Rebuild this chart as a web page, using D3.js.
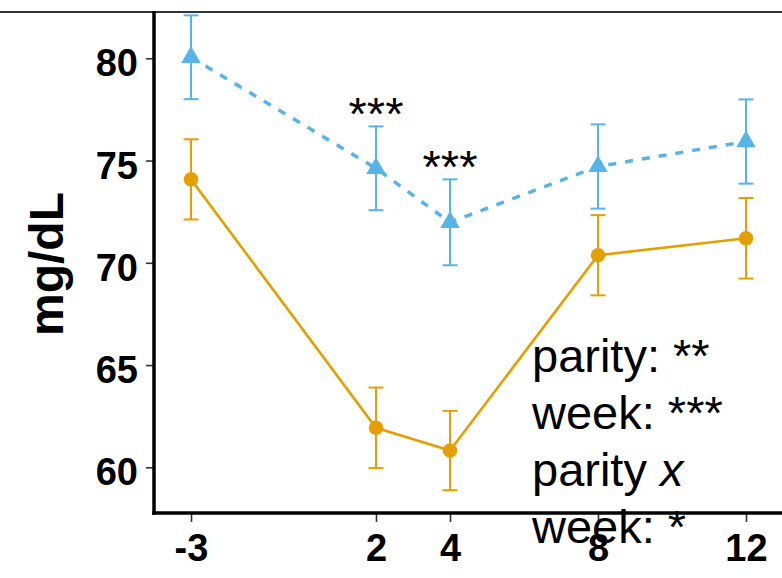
<!DOCTYPE html>
<html>
<head>
<meta charset="utf-8">
<script src="https://cdn.jsdelivr.net/npm/d3@7"></script>
<style>
  html, body { margin: 0; padding: 0; background: #fff; overflow: hidden; }
  svg { display: block; font-family: "Liberation Sans", Arial, Helvetica, sans-serif; }
</style>
</head>
<body>
<svg id="chart" width="782" height="578"></svg>
<script>
// Sampling weeks relative to calving
const weeks = [-3, 2, 4, 8, 12];

// Dashed series (triangles): mean and standard error, mg/dL
const triangleMean = [80.05, 74.62, 71.98, 74.71, 75.93];
const triangleSE   = [2.05, 2.05, 2.10, 2.06, 2.06];

// Solid series (circles): mean and standard error, mg/dL
const circleMean = [74.08, 61.93, 60.82, 70.37, 71.20];
const circleSE   = [1.96, 1.97, 1.94, 1.96, 1.97];

// Significance marks above the dashed series at each week
const weekStars = ["", "***", "***", "", ""];

// Axis ticks
const yTicks = [60, 65, 70, 75, 80];
const xTicks = [-3, 2, 4, 8, 12];

// Model summary text
const statLines = [
  [{ t: "parity: **" }],
  [{ t: "week: ***" }],
  [{ t: "parity " }, { t: "x", italic: true }],
  [{ t: "week: *" }]
];

const BLUE = "#56B4E9";
const ORANGE = "#E69F00";

const svg = d3.select("#chart");

const x = d3.scaleLinear().domain([-3, 12]).range([191, 746]);
const y = d3.scaleLinear().domain([60, 80]).range([467.3, 58.3]);

const axisX = 154;   // left axis position
const axisY = 513;   // bottom axis position

// Top frame line
svg.append("line")
  .attr("x1", 0).attr("x2", 782).attr("y1", 12).attr("y2", 12)
  .attr("stroke", "#333").attr("stroke-width", 2);

// Y axis
const gy = svg.append("g")
  .attr("transform", `translate(${axisX},0)`)
  .call(d3.axisLeft(y).tickValues(yTicks).tickSize(8).tickPadding(8));
gy.select(".domain").remove();
gy.selectAll(".tick line").attr("stroke", "#333").attr("stroke-width", 1.6);
gy.selectAll(".tick text")
  .attr("dy", "0.46em")
  .attr("fill", "#000")
  .style("font-size", "38px")
  .style("font-weight", "bold")
  .style("font-family", "'Liberation Sans', Arial, sans-serif");

// X axis (plain hyphen for negative weeks)
const gx = svg.append("g")
  .attr("transform", `translate(0,${axisY})`)
  .call(d3.axisBottom(x).tickValues(xTicks).tickSize(9).tickPadding(12)
    .tickFormat(d => String(d)));
gx.select(".domain").remove();
gx.selectAll(".tick line").attr("stroke", "#333").attr("stroke-width", 1.6);
gx.selectAll(".tick text")
  .attr("fill", "#000")
  .style("font-size", "38px")
  .style("font-weight", "bold")
  .style("font-family", "'Liberation Sans', Arial, sans-serif");

// Axis lines
svg.append("line")
  .attr("x1", axisX).attr("x2", axisX).attr("y1", 11).attr("y2", axisY + 1.75)
  .attr("stroke", "#000").attr("stroke-width", 3.5);
svg.append("line")
  .attr("x1", axisX - 1.75).attr("x2", 782).attr("y1", axisY).attr("y2", axisY)
  .attr("stroke", "#000").attr("stroke-width", 3.5);

// Y axis title
svg.append("text")
  .attr("transform", "translate(63,264) rotate(-90)")
  .attr("text-anchor", "middle")
  .attr("fill", "#000")
  .style("font-size", "48px")
  .style("font-weight", "bold")
  .text("mg/dL");

function drawSeries(means, ses, color, dashed, shape) {
  const rows = weeks.map((w, i) => ({ w, m: means[i], se: ses[i] }));
  const g = svg.append("g");

  // error bars
  const eb = g.selectAll(".eb").data(rows).enter().append("g")
    .attr("stroke", color).attr("stroke-width", 2).attr("fill", "none");
  eb.append("line")
    .attr("x1", d => x(d.w)).attr("x2", d => x(d.w))
    .attr("y1", d => y(d.m - d.se)).attr("y2", d => y(d.m + d.se));
  eb.append("line")
    .attr("x1", d => x(d.w) - 7.5).attr("x2", d => x(d.w) + 7.5)
    .attr("y1", d => y(d.m + d.se)).attr("y2", d => y(d.m + d.se));
  eb.append("line")
    .attr("x1", d => x(d.w) - 7.5).attr("x2", d => x(d.w) + 7.5)
    .attr("y1", d => y(d.m - d.se)).attr("y2", d => y(d.m - d.se));

  // connecting line
  g.append("path")
    .datum(rows)
    .attr("fill", "none")
    .attr("stroke", color)
    .attr("stroke-width", dashed ? 3.5 : 2.6)
    .attr("stroke-dasharray", dashed ? "8,9" : null)
    .attr("d", d3.line().x(d => x(d.w)).y(d => y(d.m)));

  // markers
  const sym = d3.symbol().type(shape).size(165);
  g.selectAll(".pt").data(rows).enter().append("path")
    .attr("transform", d => `translate(${x(d.w)},${y(d.m)})`)
    .attr("d", sym)
    .attr("fill", color);
  return rows;
}

drawSeries(circleMean, circleSE, ORANGE, false, d3.symbolCircle);
const triRows = drawSeries(triangleMean, triangleSE, BLUE, true, d3.symbolTriangle);

// significance stars above the dashed series
svg.selectAll(".star").data(triRows.map((d, i) => ({ ...d, s: weekStars[i] })).filter(d => d.s))
  .enter().append("text")
  .attr("x", d => x(d.w))
  .attr("y", d => y(d.m + d.se) + 3.5)
  .attr("text-anchor", "middle")
  .attr("fill", "#000")
  .style("font-size", "47px")
  .text(d => d.s);

// model summary
const summary = svg.append("g");
statLines.forEach((parts, i) => {
  const t = summary.append("text")
    .attr("x", 532)
    .attr("y", 372 + i * 57)
    .attr("fill", "#000")
    .style("font-size", "47px");
  parts.forEach(p => {
    t.append("tspan").style("font-style", p.italic ? "italic" : "normal").text(p.t);
  });
});
</script>
</body>
</html>
